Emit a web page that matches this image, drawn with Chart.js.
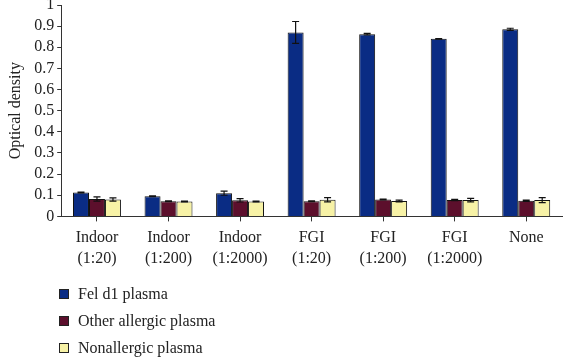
<!DOCTYPE html>
<html>
<head>
<meta charset="utf-8">
<script src="https://cdn.jsdelivr.net/npm/chart.js@4.4.1/dist/chart.umd.min.js"></script>
<style>
  html, body { margin: 0; padding: 0; background: #fff; }
  #wrap { position: relative; width: 563px; height: 358px; }
  #legend { position: absolute; left: 59px; top: 280px; font-family: "Liberation Serif", serif; font-size: 16px; color: #222; }
  #legend div { height: 27px; line-height: 22px; display: flex; align-items: center; }
  #legend span.box { display: inline-block; width: 8px; height: 8px; border: 1px solid #222; margin-right: 9px; }
</style>
</head>
<body>
<div id="wrap">
  <canvas id="c" width="563" height="358"></canvas>
  <div id="legend"></div>
</div>
<script>
const categories = [["Indoor","(1:20)"],["Indoor","(1:200)"],["Indoor","(1:2000)"],["FGI","(1:20)"],["FGI","(1:200)"],["FGI","(1:2000)"],["None"]];
const seriesNames = ["Fel d1 plasma","Other allergic plasma","Nonallergic plasma"];
const felD1 = [0.113, 0.095, 0.110, 0.870, 0.862, 0.840, 0.885];
const otherAllergic = [0.082, 0.072, 0.076, 0.072, 0.080, 0.078, 0.074];
const nonAllergic = [0.080, 0.070, 0.070, 0.079, 0.073, 0.077, 0.077];
const felD1Err = [0.002, 0.002, 0.010, 0.052, 0.004, 0.001, 0.005];
const otherAllergicErr = [0.010, 0.002, 0.008, 0.002, 0.002, 0.003, 0.003];
const nonAllergicErr = [0.008, 0.002, 0.002, 0.010, 0.004, 0.008, 0.012];
const yTicks = [0, 0.1, 0.2, 0.3, 0.4, 0.5, 0.6, 0.7, 0.8, 0.9, 1];

const colors = ["#0a2c84", "#5c0f2c", "#f7f2a6"];
const FONT = "Liberation Serif";

const errorBars = {
  id: 'errorBars',
  afterDatasetsDraw(chart) {
    const ctx = chart.ctx;
    const ys = chart.scales.y;
    ctx.save();
    ctx.strokeStyle = "#111";
    ctx.lineWidth = 1.2;
    chart.data.datasets.forEach((ds, di) => {
      const meta = chart.getDatasetMeta(di);
      meta.data.forEach((bar, i) => {
        const v = ds.data[i], e = ds.errors[i];
        const yTop = ys.getPixelForValue(v + e);
        const yBot = ys.getPixelForValue(v - e);
        const x = bar.x, cap = 3.5;
        ctx.beginPath();
        ctx.moveTo(x, yTop); ctx.lineTo(x, yBot);
        ctx.moveTo(x - cap, yTop); ctx.lineTo(x + cap, yTop);
        ctx.moveTo(x - cap, yBot); ctx.lineTo(x + cap, yBot);
        ctx.stroke();
      });
    });
    ctx.restore();
  }
};

const data = {
  labels: categories,
  datasets: [
    { label: seriesNames[0], data: felD1, errors: felD1Err, backgroundColor: colors[0] },
    { label: seriesNames[1], data: otherAllergic, errors: otherAllergicErr, backgroundColor: colors[1] },
    { label: seriesNames[2], data: nonAllergic, errors: nonAllergicErr, backgroundColor: colors[2] }
  ].map(d => Object.assign(d, { borderColor: "#111", borderWidth: 1, categoryPercentage: 0.67, barPercentage: 1.0 }))
};

const chart = new Chart(document.getElementById('c'), {
  type: 'bar',
  data,
  plugins: [errorBars],
  options: {
    responsive: false,
    animation: false,
    devicePixelRatio: 1,
    layout: { padding: { top: 0, right: 1, bottom: 83, left: 6 } },
    plugins: { legend: { display: false }, tooltip: { enabled: false } },
    scales: {
      x: {
        grid: { display: true, drawOnChartArea: false, drawTicks: true, tickLength: 5, offset: false, color: "#333" },
        border: { color: "#333", width: 1 },
        ticks: { color: "#222", font: { family: FONT, size: 16, lineHeight: 1.3 }, maxRotation: 0, padding: 6 }
      },
      y: {
        min: 0, max: 1,
        afterBuildTicks(scale) { scale.ticks = yTicks.map(v => ({ value: v })); },
        afterFit(scale) { scale.paddingTop = 5; },
        grid: { display: true, drawOnChartArea: false, drawTicks: true, tickLength: 4, color: "#333" },
        border: { color: "#333", width: 1 },
        title: { display: true, text: "Optical density", color: "#222", font: { family: FONT, size: 16 }, padding: { top: 0, bottom: 6 } },
        ticks: { color: "#222", font: { family: FONT, size: 16 }, padding: 3, autoSkip: false, callback: v => String(v) }
      }
    }
  }
});

const leg = document.getElementById('legend');
chart.data.datasets.forEach(ds => {
  const row = document.createElement('div');
  const box = document.createElement('span');
  box.className = 'box';
  box.style.background = ds.backgroundColor;
  row.appendChild(box);
  row.appendChild(document.createTextNode(ds.label));
  leg.appendChild(row);
});
</script>
</body>
</html>
